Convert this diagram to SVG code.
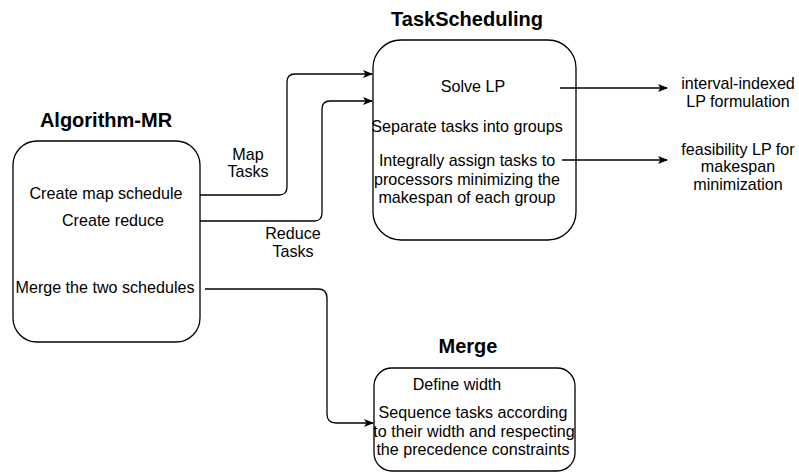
<svg xmlns="http://www.w3.org/2000/svg" width="799" height="473" viewBox="0 0 799 473">
<defs>
<style>
text{font-family:"Liberation Sans",Arial,Helvetica,sans-serif;font-size:16.1px;fill:#000;text-anchor:middle}
.t{font-weight:bold;font-size:20px}
.box{fill:#fff;stroke:#000;stroke-width:1.3}
.c{fill:none;stroke:#000;stroke-width:1.3}
</style>
<marker id="ah" viewBox="0 0 10 10" refX="9" refY="5" markerWidth="10" markerHeight="10" markerUnits="userSpaceOnUse" orient="auto">
<path d="M0,1 L10,5 L0,9 L2.5,5 Z" fill="#000"/>
</marker>
</defs>
<rect width="799" height="473" fill="#fff"/>
<g id="algorithm-mr">
<text class="t" x="106" y="127">Algorithm-MR</text>
<rect class="box" x="13" y="141" width="187" height="201" rx="24" ry="24"/>
<text x="106" y="199">Create map schedule</text>
<text x="113" y="226">Create reduce</text>
<text x="105" y="293">Merge the two schedules</text>
</g>
<g id="taskscheduling">
<text class="t" x="467" y="26">TaskScheduling</text>
<rect class="box" x="373" y="40" width="203" height="200" rx="28" ry="28"/>
<text x="473" y="92">Solve LP</text>
<text x="467" y="132">Separate tasks into groups</text>
<text x="467" y="166">Integrally assign tasks to</text>
<text x="467" y="185">processors minimizing the</text>
<text x="467" y="203">makespan of each group</text>
</g>
<g id="merge">
<text class="t" x="468" y="353">Merge</text>
<rect class="box" x="374" y="368" width="201" height="103" rx="18" ry="18"/>
<text x="457" y="390">Define width</text>
<text x="473" y="418">Sequence tasks according</text>
<text x="474" y="437">to their width and respecting</text>
<text x="473" y="455">the precedence constraints</text>
</g>
<g id="lp-formulation">
<text x="738" y="89">interval-indexed</text>
<text x="738" y="107">LP formulation</text>
</g>
<g id="feasibility-lp">
<text x="738" y="155">feasibility LP for</text>
<text x="738" y="172">makespan</text>
<text x="738" y="190">minimization</text>
</g>
<g id="connectors">
<path class="c" marker-end="url(#ah)" d="M200,195 H279 Q287,195 287,187 V82 Q287,74 295,74 H372"/>
<path class="c" marker-end="url(#ah)" d="M200,221 H314 Q322,221 322,213 V109 Q322,101 330,101 H372"/>
<path class="c" marker-end="url(#ah)" d="M205,289 H318 Q327,289 327,298 V414 Q327,423 336,423 H373"/>
<path class="c" marker-end="url(#ah)" d="M560,88 H667"/>
<path class="c" marker-end="url(#ah)" d="M562,160 H667"/>
<text x="248" y="160">Map</text>
<text x="248" y="177">Tasks</text>
<text x="293" y="239">Reduce</text>
<text x="293" y="257">Tasks</text>
</g>
</svg>
